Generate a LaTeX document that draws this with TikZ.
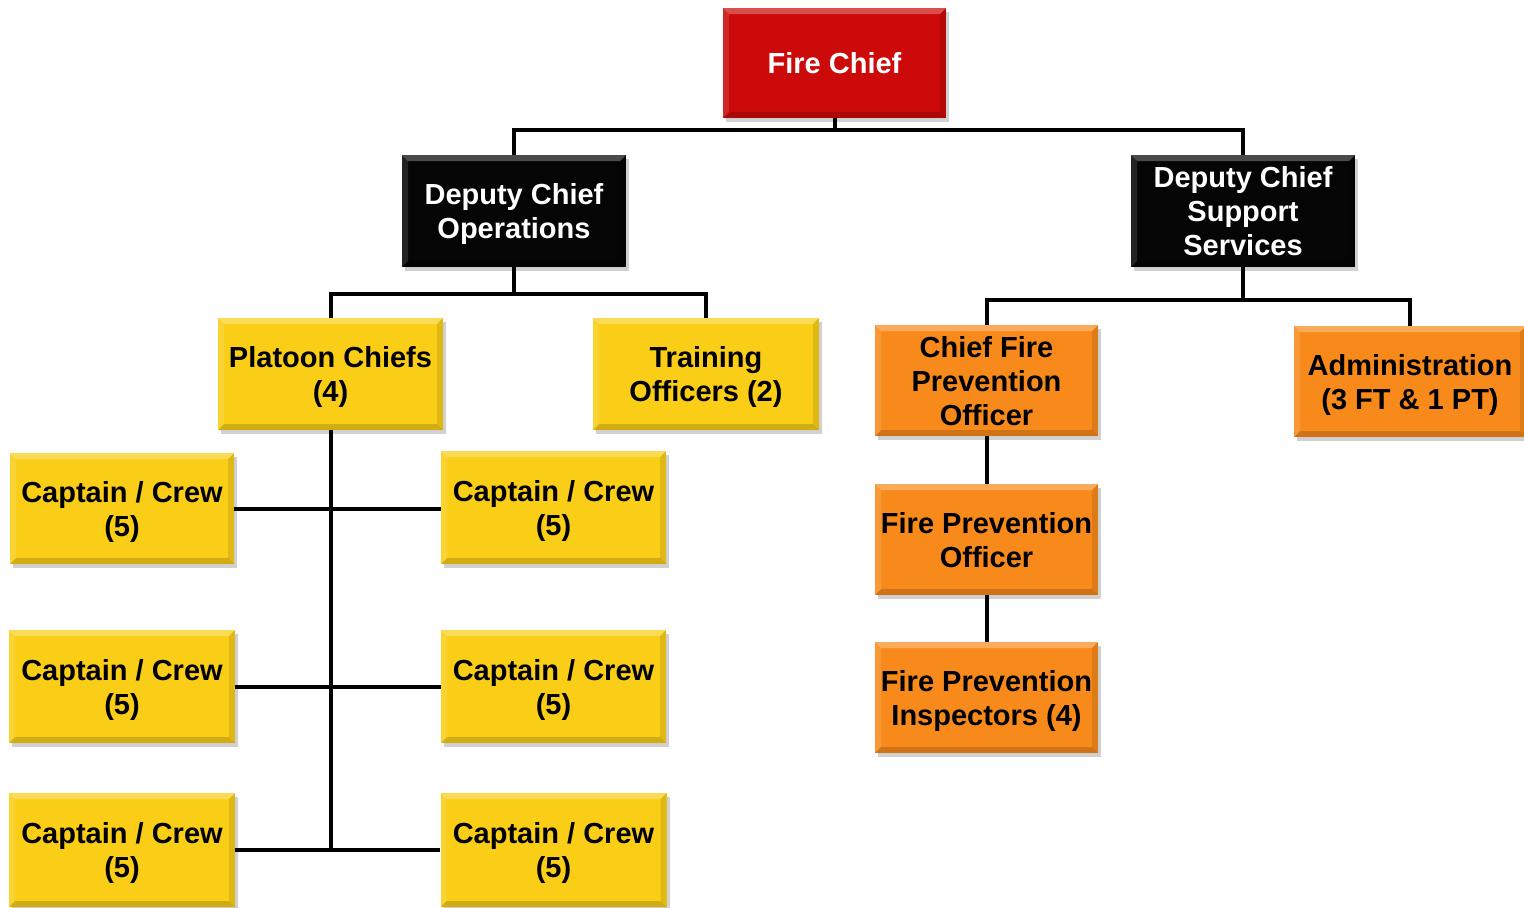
\documentclass[tikz,border=0pt]{standalone}
\usepackage{fontspec}
\setmainfont{Liberation Sans}
\usetikzlibrary{shadows}
\definecolor{chiefred}{RGB}{204,10,10}
\definecolor{boxblack}{RGB}{5,5,5}
\definecolor{boxyellow}{RGB}{250,206,22}
\definecolor{boxorange}{RGB}{248,138,28}
\tikzset{
  bevelbox/.style={rectangle, inner sep=0pt, align=center,
    font=\bfseries\fontsize{14.5}{17}\selectfont,
    drop shadow={shadow xshift=1.5pt, shadow yshift=-2pt, opacity=0.3, fill=black!60},
    path picture={
      \fill[white,opacity=0.28] (path picture bounding box.north west) -- (path picture bounding box.north east)
        -- ([shift={(-3pt,-3pt)}]path picture bounding box.north east) -- ([shift={(3pt,-3pt)}]path picture bounding box.north west) -- cycle;
      \fill[black,opacity=0.16] (path picture bounding box.south west) -- (path picture bounding box.south east)
        -- ([shift={(-3pt,3pt)}]path picture bounding box.south east) -- ([shift={(3pt,3pt)}]path picture bounding box.south west) -- cycle;
      \fill[white,opacity=0.12] (path picture bounding box.north west) -- (path picture bounding box.south west)
        -- ([shift={(3pt,3pt)}]path picture bounding box.south west) -- ([shift={(3pt,-3pt)}]path picture bounding box.north west) -- cycle;
      \fill[black,opacity=0.1] (path picture bounding box.north east) -- (path picture bounding box.south east)
        -- ([shift={(-3pt,3pt)}]path picture bounding box.south east) -- ([shift={(-3pt,-3pt)}]path picture bounding box.north east) -- cycle;
    }},
  multiline/.style={text depth=0pt},
  redbox/.style={bevelbox, fill=chiefred, text=white},
  blackbox/.style={bevelbox, multiline, fill=boxblack, text=white},
  yellowbox/.style={bevelbox, multiline, fill=boxyellow, text=black},
  orangebox/.style={bevelbox, multiline, fill=boxorange, text=black},
  conn/.style={line width=2pt, draw=black},
}
\begin{document}
\begin{tikzpicture}[x=0.5pt,y=-0.5pt]
\useasboundingbox (0,0) rectangle (1524,907);
% boxes
\node[redbox, minimum width=111.5pt, minimum height=55pt] (chief) at (834.5,63) {Fire Chief};
\node[blackbox, minimum width=112pt, minimum height=56pt] (dco) at (514,211) {Deputy Chief\\Operations};
\node[blackbox, minimum width=112pt, minimum height=56pt] (dcs) at (1243,211) {Deputy Chief\\Support\\Services};
\node[yellowbox, minimum width=112.5pt, minimum height=56pt] (plat) at (330.5,374) {Platoon Chiefs\\(4)};
\node[yellowbox, minimum width=113pt, minimum height=56pt] (train) at (706,374) {Training\\Officers (2)};
\node[orangebox, minimum width=111.5pt, minimum height=55.5pt] (cfpo) at (986.5,380.5) {Chief Fire\\Prevention\\Officer};
\node[orangebox, minimum width=116pt, minimum height=55.5pt] (admin) at (1410,381.5) {Administration\\(3 FT \& 1 PT)};
\node[orangebox, minimum width=111.5pt, minimum height=55.5pt] (fpo) at (986.5,539.5) {Fire Prevention\\Officer};
\node[orangebox, minimum width=111.5pt, minimum height=55.5pt] (fpi) at (986.5,697.5) {Fire Prevention\\Inspectors (4)};
\node[yellowbox, minimum width=112pt, minimum height=55.5pt] (c1) at (122,508.5) {Captain / Crew\\(5)};
\node[yellowbox, minimum width=113pt, minimum height=56.5pt] (c2) at (122,686.5) {Captain / Crew\\(5)};
\node[yellowbox, minimum width=113pt, minimum height=57pt] (c3) at (122,850) {Captain / Crew\\(5)};
\node[yellowbox, minimum width=112.5pt, minimum height=56.5pt] (c4) at (553.5,507.5) {Captain / Crew\\(5)};
\node[yellowbox, minimum width=112.5pt, minimum height=56.5pt] (c5) at (553.5,686.5) {Captain / Crew\\(5)};
\node[yellowbox, minimum width=113pt, minimum height=57pt] (c6) at (553.5,850) {Captain / Crew\\(5)};
% junctions
\coordinate (j1) at (chief.south |- {(0,130)});
\coordinate (j2) at (dco.south |- {(0,294)});
\coordinate (j3) at (dcs.south |- {(0,300)});
\coordinate (j4) at (plat.south |- {(0,849)});
% connectors
\draw[conn] (chief.south) -- (j1);
\draw[conn] (dco.north) |- (j1) -| (dcs.north);
\draw[conn] (dco.south) -- (j2);
\draw[conn] (plat.north) |- (j2) -| (train.north);
\draw[conn] (dcs.south) -- (j3);
\draw[conn] (cfpo.north) |- (j3) -| (admin.north);
\draw[conn] (cfpo.south) -- (fpo.north);
\draw[conn] (fpo.south) -- (fpi.north);
\draw[conn] (plat.south) -- (j4);
\draw[conn] (c1.east) -- (c1.east -| c4.west);
\draw[conn] (c2.east) -- (c2.east -| c5.west);
\draw[conn] (c3.east) -- (c3.east -| c6.west);
\end{tikzpicture}
\end{document}
